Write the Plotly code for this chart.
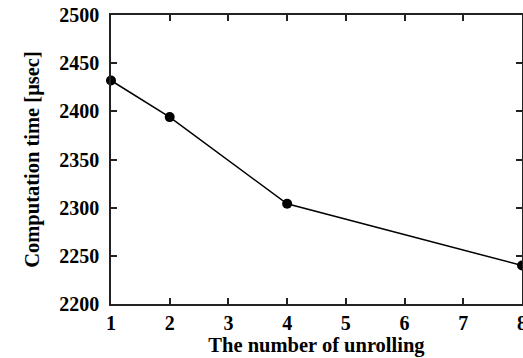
import plotly.graph_objects as go

unrolling = [1, 2, 4, 8]
comp_time = [2432, 2394, 2304, 2240]
x_ticks = [1, 2, 3, 4, 5, 6, 7, 8]
y_ticks = [2200, 2250, 2300, 2350, 2400, 2450, 2500]

FAM = "Liberation Serif"
tick_font = dict(family=FAM, size=20, color="black", weight="bold")
title_font = dict(family=FAM, size=20.5, color="black", weight="bold")

fig = go.Figure()
fig.add_trace(go.Scatter(
    x=unrolling, y=comp_time, mode="lines+markers",
    line=dict(color="black", width=1.5),
    marker=dict(color="black", size=10),
    cliponaxis=False, showlegend=False,
))

axis_common = dict(
    showline=True, linecolor="#222", linewidth=1.5, mirror="ticks",
    ticks="inside", ticklen=6, tickwidth=1.5, tickcolor="#222",
    showgrid=False, zeroline=False, tickfont=tick_font,
    ticklabeloverflow="allow",
)
fig.update_xaxes(range=[1, 8], tickvals=x_ticks, ticktext=[f"<b>{v}</b>" for v in x_ticks],
                 title=dict(text="<b>The number of unrolling</b>", font=title_font, standoff=2),
                 **axis_common)
fig.update_yaxes(range=[2200, 2500], tickvals=y_ticks, ticktext=[f"<b>{v}</b>" for v in y_ticks],
                 title=dict(text="<b>Computation time [μsec]</b>", font=title_font, standoff=14),
                 ticklabelstandoff=6,
                 **axis_common)
fig.update_layout(
    width=523, height=358,
    margin=dict(l=111, r=1, t=15, b=54, autoexpand=False),
    paper_bgcolor="white", plot_bgcolor="white",
    font=dict(family=FAM, color="black"),
)
fig.write_html("out.html")
